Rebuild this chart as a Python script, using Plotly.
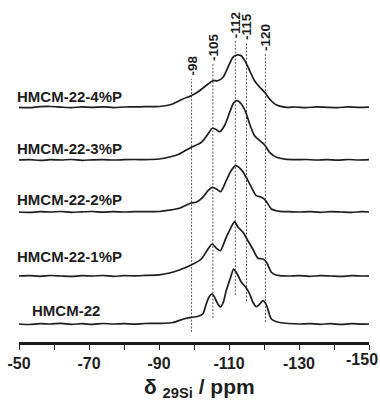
import plotly.graph_objects as go

# ---- data (chemical shift in ppm, intensity in arbitrary units) ----
names = ["HMCM-22", "HMCM-22-1%P", "HMCM-22-2%P", "HMCM-22-3%P", "HMCM-22-4%P"]

ppm_hmcm = [-50, -53, -56, -59, -62, -65, -68, -71, -74, -77, -80, -83, -86, -90.1, -94, -97, -99.2, -101,
            -102.5, -103.5, -104.3, -105.2, -106, -106.8, -107.6, -108.4, -109.2, -110.5, -111.3, -112,
            -112.8, -113.5, -114.8, -115.9, -116.8, -117.8, -118.8, -119.7, -120.4, -120.9, -121.5, -122.1,
            -123, -124.5, -127, -130, -133, -136, -139, -142, -145, -148, -150]
int_hmcm = [0, -0.5, 0.4, 0, 0.6, -0.3, 0.3, -0.4, 0.5, 0, 0.4, -0.2, 0.5, 0.6, 1.5, 5, 6.7, 7.5,
            10, 20, 27, 30, 26, 20, 17, 22, 33.3, 47, 55, 52,
            47, 42, 36.7, 30, 22, 17.3, 20, 23.3, 21, 17, 10, 5,
            3, 1.5, 0.5, 0, 0.4, -0.3, 0.3, -0.4, 0.3, -0.2, 0]

ppm_1p = [-50, -53, -56, -59, -62, -65, -68, -71, -74, -77, -80, -83, -86, -90.1, -93, -95.8, -99.2, -102.1,
          -104, -105.2, -106.4, -107.5, -109.2, -110.6, -111.6, -112.6, -114, -115.4, -116.8, -118.3,
          -119.7, -120.7, -122.1, -123.2, -124.5, -127, -130, -133, -136, -139, -142, -145, -148, -150]
int_1p = [0, 0.4, -0.3, 0.5, 0, -0.4, 0.3, 0, 0.5, -0.3, 0.3, 0.2, 0.6, 1.2, 3, 6, 11, 17,
          27, 32, 27.7, 25.3, 38.7, 48.7, 54.3, 48.7, 43.7, 35.3, 27, 17.7,
          17, 13.7, 3.7, 1.2, 0.3, 0, 0.4, -0.3, 0.3, 0, -0.4, 0.3, 0, 0.2]

ppm_2p = [-50, -53, -56, -59, -62, -65, -68, -71, -74, -77, -80, -83, -86, -90.1, -93, -95.8, -99.2, -100.6,
          -102.5, -104, -105.2, -106.4, -107.6, -109.2, -110.6, -111.9, -113.5, -114.9, -116.4, -117.8,
          -119.3, -120.5, -122.1, -123.2, -124.5, -127, -130, -133, -136, -139, -142, -145, -148, -150]
int_2p = [0, -0.4, 0.3, 0, 0.5, -0.3, 0.2, 0.5, -0.2, 0.3, 0, 0.4, 0.3, 0.5, 1.8, 3.7, 9, 9.7,
          14.7, 21.3, 24.7, 23, 20.3, 31.3, 41.3, 46.3, 42.3, 34.7, 24.7, 16.3,
          14.7, 11.3, 3, 1.5, 0.7, 0.3, 0, 0.4, -0.3, 0.3, 0, -0.3, 0.3, 0]

ppm_3p = [-50, -53, -56, -59, -62, -65, -68, -71, -74, -77, -80, -83, -86, -90.1, -93, -95.8, -99.2, -102.1,
          -104, -105.2, -106.4, -107.3, -108.7, -110.2, -111.3, -112.3, -113.5, -114.8, -115.9, -117.3,
          -118.8, -120.2, -121.6, -123.6, -126, -129.3, -132, -135, -138, -141, -144, -147, -150]
int_3p = [0, 0.4, -0.4, 0.3, 0, 0.5, -0.3, 0.2, 0.4, 0, 0.3, 0.5, 0.4, 1, 3, 6, 12.7, 17.7,
          26, 31.7, 30.3, 28.3, 34.3, 47.7, 57, 59.3, 56, 47.7, 36, 24.3,
          19.3, 15, 7.7, 2.7, 0.8, 0.3, 0.5, 0, 0.4, -0.2, 0.5, 0, 0.3]

ppm_4p = [-50, -53, -56, -59, -62, -65, -68, -71, -74, -77, -80, -83, -86, -90.1, -93.9, -96.8, -99.2, -101.6,
          -104, -105.4, -106.8, -108.3, -109.7, -111.1, -112.3, -113.5, -114.8, -115.9, -117.3, -118.8,
          -120.2, -121.6, -123.6, -126.4, -129, -132, -135, -138, -141, -144, -147, -150]
int_4p = [0, -0.4, 0.6, 0.8, 0.2, -0.3, 0.4, 0, 0.5, -0.3, 0.3, 0.4, 0.6, 0.8, 3.3, 8.3, 11.6, 16.6,
          23.3, 26.6, 26.6, 30, 40, 50, 52.3, 51.6, 45, 36.6, 26.6, 20,
          15, 8.3, 2.3, 0, 0.3, -0.3, 0.4, 0, -0.3, 0.4, 0, 0.2]

# vertical stacking offsets of each spectrum
offsets = [18, 66, 130, 182, 234.7]

# reference peak markers
peak_labels = ["-98", "-105", "-112", "-115", "-120"]
peak_pos = [-99.3, -105.4, -111.8, -115.0, -120.4]
peak_line_top = [263, 278, 301, 299, 288]
peak_line_bottom = [10, 24, 47, 41, 20]

# label positions (x in paper fraction, y in data units)
label_x = [0.031, -0.011, -0.011, -0.011, -0.011]
label_y = [31.3, 85.7, 142.7, 194, 245.7]

tick_vals = [-50, -70, -90, -110, -130, -150]
tick_text = ["-50", "-70", "-90", "-110", "-130", "-150"]

series_ppm = [ppm_hmcm, ppm_1p, ppm_2p, ppm_3p, ppm_4p]
series_int = [int_hmcm, int_1p, int_2p, int_3p, int_4p]

FONT = "Liberation Sans, Arial, sans-serif"

fig = go.Figure()

# dashed reference lines
for p, top, bot in zip(peak_pos, peak_line_top, peak_line_bottom):
    fig.add_trace(go.Scatter(x=[p, p], y=[bot, top], mode="lines",
                             line=dict(color="#333333", width=0.8, dash="2px,1.5px"),
                             hoverinfo="skip", showlegend=False))

for px_, iy, off, nm in zip(series_ppm, series_int, offsets, names):
    fig.add_trace(go.Scatter(x=px_, y=[v + off for v in iy], mode="lines", name=nm,
                             line=dict(color="#1e1e1e", width=1.7, shape="spline", smoothing=0.7),
                             showlegend=False))

annotations = []
for nm, lx, ly in zip(names, label_x, label_y):
    annotations.append(dict(x=lx, y=ly, xref="paper", yref="y", text="<b>" + nm + "</b>",
                            showarrow=False, xanchor="left", yanchor="middle",
                            font=dict(family=FONT, size=15, color="#1e1e1e")))
for lab, p, top in zip(peak_labels, peak_pos, peak_line_top):
    annotations.append(dict(x=p, y=top, xref="x", yref="y", text="<b>" + lab + "</b>", textangle=-90,
                            showarrow=False, xanchor="center", yanchor="bottom", yshift=1,
                            font=dict(family=FONT, size=13.5, color="#1e1e1e")))
# last tick label sits flush with the right edge (as in the original figure)
annotations.append(dict(x=1.03, y=-0.052, xref="paper", yref="paper",
                        text="<b>" + tick_text[-1] + "</b>", showarrow=False,
                        xanchor="right", yanchor="middle",
                        font=dict(family=FONT, size=16, color="#1e1e1e")))
annotations.append(dict(x=0.517, y=-0.137, xref="paper", yref="paper",
                        text="<b>δ <sub>29Si</sub> / ppm</b>", showarrow=False,
                        xanchor="center", yanchor="middle",
                        font=dict(family=FONT, size=21, color="#1e1e1e")))

fig.update_layout(
    width=380, height=408,
    margin=dict(l=19, r=11, t=5, b=66, autoexpand=False),
    paper_bgcolor="white", plot_bgcolor="white",
    annotations=annotations,
    xaxis=dict(range=[-50, -150], tickvals=tick_vals[:-1], ticktext=tick_text[:-1],
               showline=True, linewidth=3, linecolor="#1a1a1a",
               ticks="outside", ticklen=5, tickwidth=1.3, tickcolor="#1a1a1a",
               minor=dict(dtick=10, ticks="outside", ticklen=5, tickwidth=1.3, tickcolor="#1a1a1a"),
               showgrid=False, zeroline=False, automargin=False,
               tickfont=dict(family=FONT, size=16, color="#1e1e1e", weight="bold")),
    yaxis=dict(range=[0, 337], visible=False, showgrid=False, zeroline=False, automargin=False),
)

fig.write_html("out.html")
